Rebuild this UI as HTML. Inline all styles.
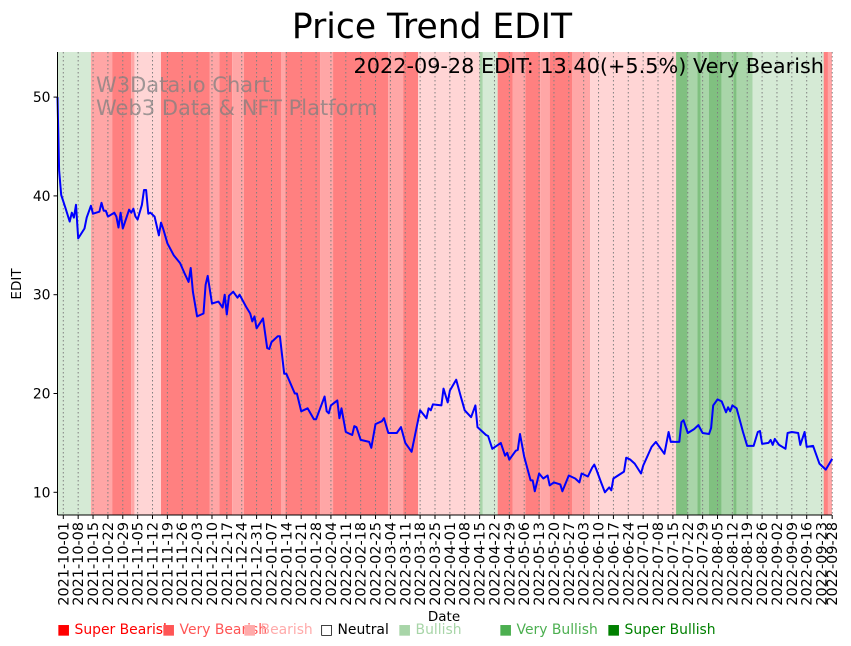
<!DOCTYPE html>
<html><head><meta charset="utf-8"><style>
body{margin:0;background:#fff;}
svg{display:block;font-family:"DejaVu Sans","Liberation Sans",sans-serif;}
</style></head><body>
<svg id="chart" width="851" height="646" viewBox="0 0 851 646" xmlns="http://www.w3.org/2000/svg">
<g id="bands"></g>
<g id="grid"></g>
<text x="96" y="92" font-size="21" fill="#808080" fill-opacity="0.75">W3Data.io Chart</text>
<text x="96" y="115" font-size="21" fill="#808080" fill-opacity="0.75">Web3 Data &amp; NFT Platform</text>
<path id="line" fill="none" stroke="#0000ff" stroke-width="2" stroke-linejoin="round"></path>
<text x="824" y="73" font-size="20.8" text-anchor="end" fill="#000">2022-09-28 EDIT: 13.40(+5.5%) Very Bearish</text>
<g id="yaxis"></g>
<g id="xaxis"></g>
<line x1="57.5" y1="52" x2="57.5" y2="515" stroke="#000" stroke-width="1"/>
<line x1="57.5" y1="515" x2="832" y2="515" stroke="#000" stroke-width="1"/>
<text x="432" y="38" font-size="34.5" text-anchor="middle">Price Trend EDIT</text>
<text x="0" y="0" font-size="13.5" text-anchor="middle" transform="translate(21,284) rotate(-90)">EDIT</text>
<text x="444" y="621" font-size="13.5" text-anchor="middle">Date</text>
<g id="legend" font-size="13.9"></g>
</svg>
<script>
// ---- data ----
const dayOffsets = [-3,-2,-1,1,3,4,5,6,7,10,11,13,14,17,18,19,20,21,24,25,26,27,28,31,32,33,34,35,37,38,39,40,41,43,45,46,47,49,52,55,57,59,60,61,63,66,67,68,70,73,75,76,77,78,80,82,83,86,88,89,90,91,94,96,97,98,101,102,104,105,109,110,112,115,118,119,123,124,125,126,129,130,131,133,136,137,138,140,144,145,147,150,151,153,157,159,161,164,168,171,172,173,174,178,179,181,182,185,187,189,192,194,195,199,200,202,206,208,209,210,213,214,215,217,220,221,222,224,226,228,229,231,234,235,238,241,243,244,247,249,250,251,253,255,257,258,259,264,265,267,269,272,273,277,279,280,283,285,286,290,291,292,294,297,299,301,304,305,306,308,310,312,313,314,315,317,320,322,325,327,328,329,332,333,334,335,337,340,341,343,346,347,349,350,353,356,359,362];
const prices = [50,42.6,40.1,38.8,37.4,38.3,37.8,39.1,35.7,36.7,37.8,39,38.2,38.4,39.3,38.5,38.5,37.9,38.3,37.9,36.8,38.3,36.7,38.6,38.3,38.7,37.9,37.6,39.1,40.6,40.6,38.2,38.3,37.9,36,37.3,36.7,35.2,34,33.2,32.2,31.3,32.7,30.3,27.8,28.1,31,31.9,29.1,29.3,28.7,30,28,29.9,30.3,29.7,30,28.8,28.1,27.3,27.8,26.6,27.6,24.6,24.5,25.2,25.8,25.8,22,22,20,20,18.2,18.5,17.4,17.4,19.7,18.2,18,18.8,19.3,17.5,18.5,16.1,15.8,16.7,16.6,15.3,15.1,14.5,16.9,17.2,17.5,16,16,16.6,15,14.1,18.3,17.5,18.5,18.3,18.9,18.8,20.5,19.1,20.3,21.4,19.8,18.3,17.6,18.8,16.6,15.8,15.7,14.4,15,13.7,14,13.3,14.2,14.3,15.9,13.6,11.2,11.2,10.1,11.9,11.4,11.7,10.7,11,10.8,10.1,11.7,11.4,11,11.9,11.6,12.5,12.8,12.3,11.1,10,10.5,10.2,11.4,12.1,13.5,13.3,12.9,11.9,12.7,14.6,15.1,14.8,13.9,16.1,15.1,15.1,17.1,17.3,16,16.4,16.8,16,15.9,16.5,18.8,19.4,19.2,18.1,18.6,18.2,18.8,18.5,16.1,14.7,14.7,16.1,16.2,14.9,15,15.3,14.8,15.4,14.8,14.4,16,16.1,16,14.8,16.1,14.6,14.7,12.9,12.3,13.4];
const bandStarts = [-3,13,23,32,33.5,46,69,73.5,79.5,85,102.5,104.5,121,127,153,160,167,196,197.5,204.5,211.5,217.5,224.5,229,239.5,248,288.5,294,298.5,300,304,310,315.5,317,324.5,358,360];
const bandEnd = 362.5;
const bandLevels = [4,1,0,1,2,0,1,0,1,0,1,0,1,0,1,0,2,5,4,0,1,0,1,0,1,2,6,5,6,5,6,5,6,5,4,0,1];
const yTicks = [10,20,30,40,50];
const legendLabels = ["Super Bearish","Very Bearish","Bearish","Neutral","Bullish","Very Bullish","Super Bullish"];

// ---- styles / scales ----
const bandFill = ["#ff8080","#ffa6a6","#ffd5d5","#ffffff","#d5ead5","#a9d5a9","#80c080"];
const legendColor = ["#ff0000","#ff5555","#ffaaaa","#000000","#a8d5a8","#4caf50","#008000"];
const legendX = [57,162,243,320,398,499,607];
const PL=57.5, PR=832, PT=52, PB=515;
const startDate = new Date(Date.UTC(2021,9,1));
function xs(d){ return 63.3 + d*2.124; }
function ys(v){ return 492.3 - (v-10)*9.88; }
const NS="http://www.w3.org/2000/svg";
function mk(tag, attrs, parent){ const e=document.createElementNS(NS,tag); for(const k in attrs) e.setAttribute(k,attrs[k]); parent.appendChild(e); return e; }

// bands
const bandsG=document.getElementById('bands');
bandStarts.forEach((s,i)=>{
  const e = i+1<bandStarts.length ? bandStarts[i+1] : bandEnd;
  const x1=Math.max(PL,xs(s)), x2=Math.min(PR,xs(e));
  const r=mk('rect',{x:x1,y:PT,width:Math.max(0,x2-x1),height:PB-PT,fill:bandFill[bandLevels[i]]},bandsG);
  
  
});

// x ticks & grid
const gridG=document.getElementById('grid'), xG=document.getElementById('xaxis');
const tickDays=[]; for(let d=0; d<=357; d+=7) tickDays.push(d); tickDays.push(362);
tickDays.forEach(d=>{
  const x=xs(d);
  const g=mk('line',{x1:x,y1:PT,x2:x,y2:PB,stroke:'#808080','stroke-width':1,'stroke-dasharray':'1.5,2.5'},gridG);
  
  
  mk('line',{x1:x,y1:PB,x2:x,y2:PB+4,stroke:'#000'},xG);
  const dt=new Date(startDate.getTime()+d*86400000);
  const lbl=dt.toISOString().slice(0,10);
  const t=mk('text',{x:0,y:0,'font-size':14.4,'text-anchor':'end',transform:`translate(${x+5},${PB+7}) rotate(-90)`},xG);
  t.textContent=lbl;
  
  
});

// y ticks
const yG=document.getElementById('yaxis');
yTicks.forEach(v=>{
  const y=ys(v);
  mk('line',{x1:PL-4,y1:y,x2:PL,y2:y,stroke:'#000'},yG);
  const t=mk('text',{x:PL-7,y:y+5,'font-size':13.9,'text-anchor':'end'},yG);
  t.textContent=v;
  
  
});

// line
let dstr='';
dayOffsets.forEach((d,i)=>{ dstr+=(i?'L':'M')+Math.max(PL,xs(d)).toFixed(1)+','+ys(prices[i]).toFixed(1); });
document.getElementById('line').setAttribute('d',dstr);

// legend
const lg=document.getElementById('legend');
legendLabels.forEach((l,i)=>{
  const t=mk('text',{x:legendX[i],y:634,fill:legendColor[i]},lg);
  t.textContent=(i===3?'\u25A1 ':'\u25A0 ')+l;
  
  
});
</script>
</body></html>
